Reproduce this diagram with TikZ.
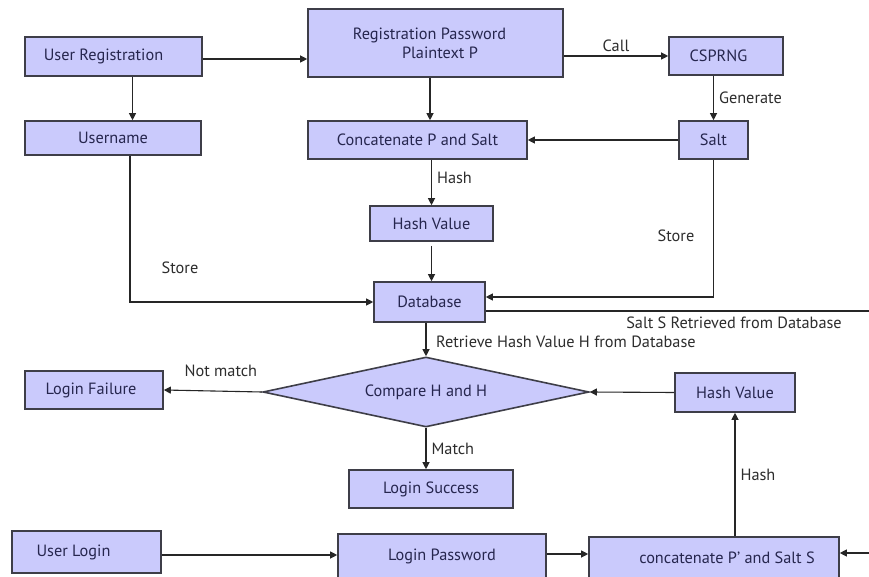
\documentclass[tikz,border=0pt]{standalone}
\usepackage{fontspec}
\setmainfont{PT Sans}
\usetikzlibrary{shapes.geometric,arrows.meta}
\definecolor{boxfill}{RGB}{202,202,252}
\definecolor{boxline}{RGB}{62,62,72}
\definecolor{boxtext}{RGB}{38,38,78}
\definecolor{lbltext}{RGB}{45,45,45}
\tikzset{
  box/.style={draw=boxline, line width=1.6pt, fill=boxfill, text=boxtext,
    inner sep=0pt, align=center, font=\fontsize{16.3}{19}\selectfont},
  decision/.style={box, diamond, aspect=4.6},
  lbl/.style={text=lbltext, inner sep=1pt, font=\fontsize{16.3}{19}\selectfont},
  arr/.style={draw=black!85, line width=1.1pt, -{Triangle[length=7pt,width=7pt]}},
  plain/.style={draw=black!85, line width=1.1pt}
}
\begin{document}
\begin{tikzpicture}[x=1pt,y=-1pt]
  \clip (0,0) rectangle (869,577);
  \fill[white] (0,0) rectangle (869,577);
  % registration side
  \node[box, minimum width=177, minimum height=39] (userreg) at (113.5,56.5) {User Registration\hspace*{20pt}};
  \node[box, minimum width=176, minimum height=34] (username) at (113,138) {Username};
  \node[box, minimum width=255, minimum height=68] (regpass) at (435.5,43) {Registration Password\hspace*{12pt}\\ \hspace*{9pt}Plaintext P};
  \node[box, minimum width=114, minimum height=38] (csprng) at (726,56) {CSPRNG\hspace*{15pt}};
  \node[box, minimum width=69, minimum height=38] (salt) at (713.5,140) {Salt};
  \node[box, minimum width=219, minimum height=38] (concat) at (417.5,140) {Concatenate P and Salt};
  \node[box, minimum width=123, minimum height=35] (hashval) at (431.5,223.5) {Hash Value};
  \node[box, minimum width=111, minimum height=40] (db) at (429.5,302) {Database};
  % login side
  \node[decision, minimum width=326, minimum height=70] (compare) at (426,392) {Compare H and H};
  \node[box, minimum width=138, minimum height=38] (fail) at (94,390) {Login Failure\hspace*{6pt}};
  \node[box, minimum width=120, minimum height=39] (hashval2) at (735,392.5) {Hash Value};
  \node[box, minimum width=164, minimum height=38] (success) at (431,489) {Login Success};
  \node[box, minimum width=149, minimum height=42] (ulogin) at (86.5,552) {User Login\hspace*{26pt}};
  \node[box, minimum width=208, minimum height=44] (lpass) at (442,556) {Login Password};
  \node[box, minimum width=250, minimum height=42] (concat2) at (714,558) {\hspace*{26pt}concatenate P' and Salt S};
  % loose ends at the right border
  \coordinate (rimA) at (870,311);
  \coordinate (rimB) at (870,553);

  % connectors, top half
  \draw[arr] ([yshift=-2.5pt]userreg.east) -- ([yshift=-2.5pt]userreg.east -| regpass.west);
  \draw[arr] (regpass.east |- csprng.west) -- node[lbl, above=3pt] {Call} (csprng.west);
  \draw[arr] ([xshift=19pt]userreg.south) -- ([xshift=19pt]userreg.south |- username.north);
  \draw[arr] ([xshift=-5.5pt]regpass.south) -- ([xshift=-5.5pt]regpass.south |- concat.north);
  \draw[arr] (salt.north |- csprng.south) -- node[lbl, right=4pt] {Generate} (salt.north);
  \draw[arr] (salt.west) -- (concat.east);
  \draw[arr] (concat.south -| hashval.north) -- node[lbl, right=4pt, pos=0.4] {Hash} (hashval.north);
  \draw[arr] ([yshift=-4pt]hashval.south) -- (hashval.south |- db.north);
  \draw[arr] ([xshift=17pt]username.south) |- (db.west);
  \node[lbl] (storeL) at (180,268) {Store};
  \draw[arr] (salt.south) |- ([yshift=5pt]db.east);
  \node[lbl] (storeR) at (676,236) {Store};
  \draw[plain] ([yshift=-9pt]db.east) -- (rimA);
  \node[lbl] (saltS) at (734,323) {Salt S Retrieved from Database};
  % connectors, bottom half
  \draw[arr] (db.south -| compare.north) -- (compare.north);
  \node[lbl, anchor=west] (retr) at (435,342) {Retrieve Hash Value H from Database};
  \draw[arr] (compare.west) -- node[lbl, above=13pt, pos=0.42] {Not match} (fail.east);
  \draw[arr] (hashval2.west) -- (compare.east);
  \draw[arr] (compare.south) -- node[lbl, right=4pt] {Match} (compare.south |- success.north);
  \draw[arr] (hashval2.south |- concat2.north) -- node[lbl, right=4pt] {Hash} (hashval2.south);
  \draw[arr] ([yshift=-3pt]ulogin.east) -- ([yshift=-3pt]ulogin.east -| lpass.west);
  \draw[arr] ([yshift=2pt]lpass.east) -- ([yshift=2pt]lpass.east -| concat2.west);
  \draw[arr] (rimB) -- (rimB -| concat2.east);
\end{tikzpicture}
\end{document}
